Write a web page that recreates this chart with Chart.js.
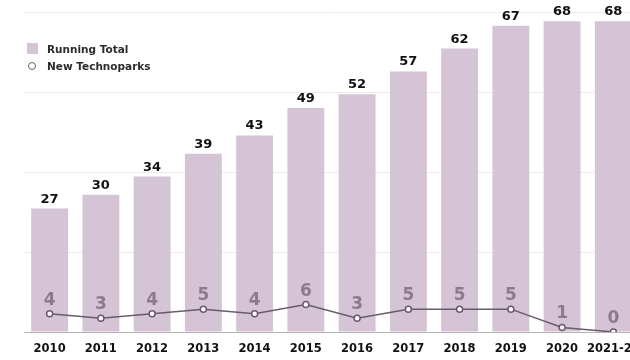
<!DOCTYPE html>
<html>
<head>
<meta charset="utf-8">
<script src="https://cdn.jsdelivr.net/npm/chart.js@4/dist/chart.umd.min.js"></script>
<style>
html, body { margin: 0; padding: 0; background: #fff; overflow: hidden; }
#wrap { position: relative; width: 650px; height: 360px; }
#legend { position: absolute; left: 27px; top: 41px; font-family: "DejaVu Sans", sans-serif; font-weight: bold; font-size: 10.5px; color: #2b2b2b; }
#legend div { height: 17px; line-height: 17px; white-space: nowrap; }
#legend .sw { display: inline-block; width: 11px; height: 11px; vertical-align: -1px; margin-right: 9px; }
#legend .pt { display: inline-block; width: 6px; height: 6px; border: 1.6px solid #6b5a6d; border-radius: 50%; margin: 0 11px 0 1px; vertical-align: 0px; background: #fff; }
</style>
</head>
<body>
<div id="wrap">
  <canvas id="chart" width="650" height="360"></canvas>
  <div id="legend"></div>
</div>
<script>
var years = ["2010", "2011", "2012", "2013", "2014", "2015", "2016", "2017", "2018", "2019", "2020", "2021-22"];
var runningTotal = [27, 30, 34, 39, 43, 49, 52, 57, 62, 67, 68, 68];
var newParks = [4, 3, 4, 5, 4, 6, 3, 5, 5, 5, 1, 0];

var barColor = "#d4c4d5";
var lineColor = "#6b5a6d";
var lineLabelColor = "#8b7b8d";

var legendBox = document.getElementById("legend");
legendBox.innerHTML =
  "<div><span class='sw' style='background:" + barColor + "'></span>Running Total</div>" +
  "<div><span class='pt'></span>New Technoparks</div>";

// value labels above bars and points
var valueLabels = {
  id: "valueLabels",
  afterDatasetsDraw: function (chart) {
    var ctx = chart.ctx;
    ctx.save();
    ctx.textAlign = "center";
    ctx.textBaseline = "alphabetic";
    chart.data.datasets.forEach(function (ds, i) {
      var meta = chart.getDatasetMeta(i);
      meta.data.forEach(function (el, j) {
        if (ds.type === "bar") {
          ctx.font = "bold 13px 'DejaVu Sans', sans-serif";
          ctx.fillStyle = "#111";
          ctx.fillText(ds.data[j], el.x, el.y - 6);
        } else {
          ctx.font = "bold 17px 'DejaVu Sans', sans-serif";
          ctx.fillStyle = lineLabelColor;
          ctx.fillText(ds.data[j], el.x, el.y - 9);
        }
      });
    });
    ctx.restore();
  }
};

var ctx = document.getElementById("chart").getContext("2d");
new Chart(ctx, {
  data: {
    labels: years,
    datasets: [
      {
        type: "line",
        label: "New Technoparks",
        data: newParks,
        order: 0,
        borderColor: lineColor,
        borderWidth: 1.5,
        pointRadius: 3,
        pointBorderWidth: 1.5,
        pointBackgroundColor: "#fff",
        pointBorderColor: lineColor,
        tension: 0
      },
      {
        type: "bar",
        label: "Running Total",
        data: runningTotal,
        order: 1,
        backgroundColor: barColor,
        categoryPercentage: 1,
        barPercentage: 0.72
      }
    ]
  },
  options: {
    responsive: false,
    animation: false,
    layout: { padding: { left: 24, right: 6, top: 12, bottom: 0 } },
    plugins: { legend: { display: false }, tooltip: { enabled: false } },
    scales: {
      x: {
        grid: { display: false, drawTicks: false },
        border: { display: true, color: "#b5b5b5", width: 1 },
        ticks: {
          color: "#111",
          padding: 10,
          maxRotation: 0,
          autoSkip: false,
          font: { family: "'DejaVu Sans', sans-serif", weight: "bold", size: 11.5 }
        },
        afterFit: function (scale) { scale.height = 28; }
      },
      y: {
        min: 0,
        max: 70,
        grid: { color: "#eeeaea", drawTicks: false },
        border: { display: false },
        ticks: { display: false, stepSize: 17.5 },
        afterFit: function (scale) { scale.width = 0; }
      }
    }
  },
  plugins: [valueLabels]
});
</script>
</body>
</html>
